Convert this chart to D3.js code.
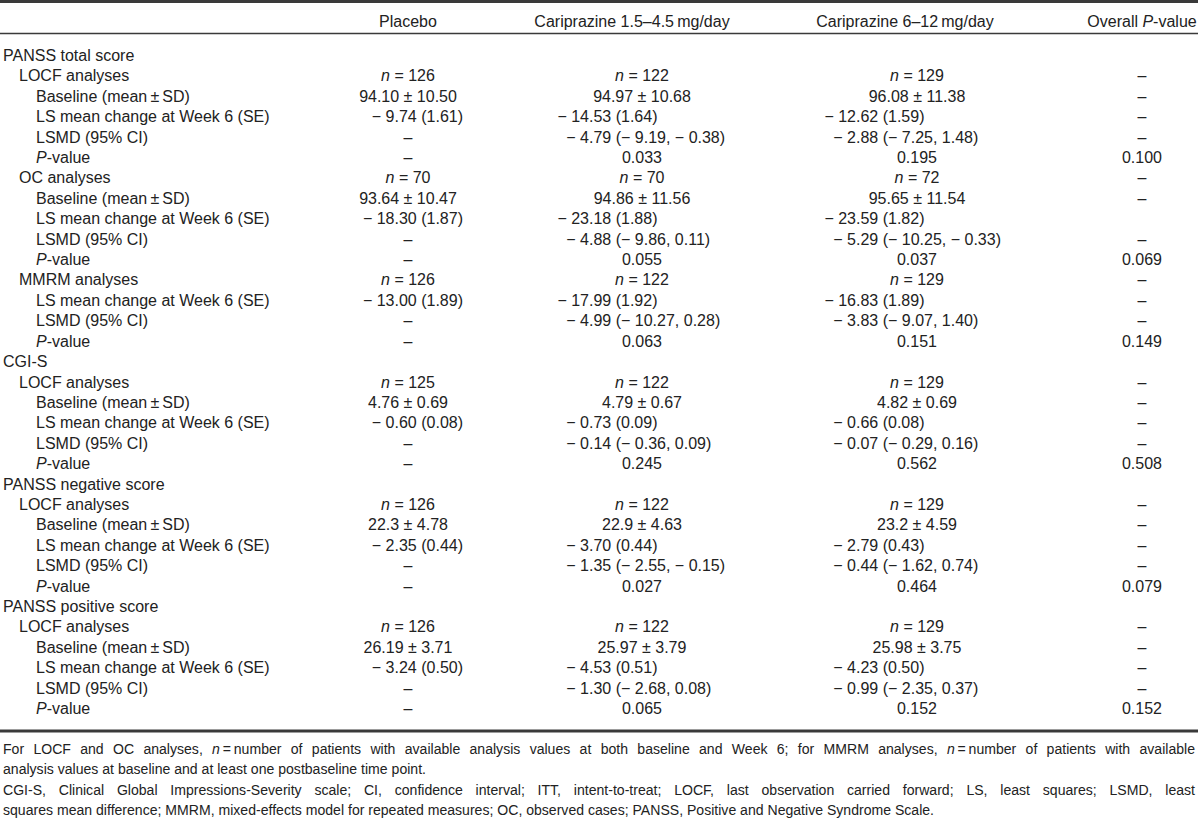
<!DOCTYPE html>
<html>
<head>
<meta charset="utf-8">
<script src="https://cdn.jsdelivr.net/npm/d3@7"></script>
<style>
  body { margin: 0; background: #fff; }
  svg { display: block; }
  text { font-family: "Liberation Sans", Arial, Helvetica, sans-serif; fill: #222; }
  .foot text { font-family: "Liberation Sans Narrow", "Liberation Sans", Arial, sans-serif; }
</style>
</head>
<body>
<svg id="table" width="1200" height="819"></svg>
<script>
/* global d3 */

// Column headers (asterisks mark italic text)
const columns = ['Placebo', 'Cariprazine 1.5\u20134.5\u2009mg/day', 'Cariprazine 6\u201312\u2009mg/day', 'Overall *P*-value']

// Row labels and their indent level
const rowLabels = [
  'PANSS total score', 'LOCF analyses', 'Baseline (mean\u2009\u00b1\u2009SD)', 'LS mean change at Week 6 (SE)', 'LSMD (95% CI)', '*P*-value',
  'OC analyses', 'Baseline (mean\u2009\u00b1\u2009SD)', 'LS mean change at Week 6 (SE)', 'LSMD (95% CI)', '*P*-value',
  'MMRM analyses', 'LS mean change at Week 6 (SE)', 'LSMD (95% CI)', '*P*-value',
  'CGI-S', 'LOCF analyses', 'Baseline (mean\u2009\u00b1\u2009SD)', 'LS mean change at Week 6 (SE)', 'LSMD (95% CI)', '*P*-value',
  'PANSS negative score', 'LOCF analyses', 'Baseline (mean\u2009\u00b1\u2009SD)', 'LS mean change at Week 6 (SE)', 'LSMD (95% CI)', '*P*-value',
  'PANSS positive score', 'LOCF analyses', 'Baseline (mean\u2009\u00b1\u2009SD)', 'LS mean change at Week 6 (SE)', 'LSMD (95% CI)', '*P*-value'
]
const rowLevels = [0, 1, 2, 2, 2, 2, 1, 2, 2, 2, 2, 1, 2, 2, 2, 0, 1, 2, 2, 2, 2, 0, 1, 2, 2, 2, 2, 0, 1, 2, 2, 2, 2]

const placebo = [
  '', 'n=126', '94.10\u00b110.50', '-9.74 (1.61)', '\u2013', '\u2013',
  'n=70', '93.64\u00b110.47', '-18.30 (1.87)', '\u2013', '\u2013',
  'n=126', '-13.00 (1.89)', '\u2013', '\u2013',
  '', 'n=125', '4.76\u00b10.69', '-0.60 (0.08)', '\u2013', '\u2013',
  '', 'n=126', '22.3\u00b14.78', '-2.35 (0.44)', '\u2013', '\u2013',
  '', 'n=126', '26.19\u00b13.71', '-3.24 (0.50)', '\u2013', '\u2013'
]
const cariLow = [
  '', 'n=122', '94.97\u00b110.68', '-14.53 (1.64)', '-4.79 (-9.19, -0.38)', '0.033',
  'n=70', '94.86\u00b111.56', '-23.18 (1.88)', '-4.88 (-9.86, 0.11)', '0.055',
  'n=122', '-17.99 (1.92)', '-4.99 (-10.27, 0.28)', '0.063',
  '', 'n=122', '4.79\u00b10.67', '-0.73 (0.09)', '-0.14 (-0.36, 0.09)', '0.245',
  '', 'n=122', '22.9\u00b14.63', '-3.70 (0.44)', '-1.35 (-2.55, -0.15)', '0.027',
  '', 'n=122', '25.97\u00b13.79', '-4.53 (0.51)', '-1.30 (-2.68, 0.08)', '0.065'
]
const cariHigh = [
  '', 'n=129', '96.08\u00b111.38', '-12.62 (1.59)', '-2.88 (-7.25, 1.48)', '0.195',
  'n=72', '95.65\u00b111.54', '-23.59 (1.82)', '-5.29 (-10.25, -0.33)', '0.037',
  'n=129', '-16.83 (1.89)', '-3.83 (-9.07, 1.40)', '0.151',
  '', 'n=129', '4.82\u00b10.69', '-0.66 (0.08)', '-0.07 (-0.29, 0.16)', '0.562',
  '', 'n=129', '23.2\u00b14.59', '-2.79 (0.43)', '-0.44 (-1.62, 0.74)', '0.464',
  '', 'n=129', '25.98\u00b13.75', '-4.23 (0.50)', '-0.99 (-2.35, 0.37)', '0.152'
]
const overallP = [
  '', '\u2013', '\u2013', '\u2013', '\u2013', '0.100',
  '\u2013', '\u2013', '', '\u2013', '0.069',
  '\u2013', '\u2013', '\u2013', '0.149',
  '', '\u2013', '\u2013', '\u2013', '\u2013', '0.508',
  '', '\u2013', '\u2013', '\u2013', '\u2013', '0.079',
  '', '\u2013', '\u2013', '\u2013', '\u2013', '0.152'
]

const footnotes = [
  'For LOCF and OC analyses, *n*\u2009=\u2009number of patients with available analysis values at both baseline and Week 6; for MMRM analyses, *n*\u2009=\u2009number of patients with available',
  'analysis values at baseline and at least one postbaseline time point.',
  'CGI-S, Clinical Global Impressions-Severity scale; CI, confidence interval; ITT, intent-to-treat; LOCF, last observation carried forward; LS, least squares; LSMD, least',
  'squares mean difference; MMRM, mixed-effects model for repeated measures; OC, observed cases; PANSS, Positive and Negative Syndrome Scale.'
]
const justified = [true, false, true, false]

const columnValues = [placebo, cariLow, cariHigh, overallP]

// layout
const fontSize = 16
const left = 0
const right = 1198
const indent = [3, 19, 36]
const decimalX = [null, 589, 856, null] // estimate columns line up on the decimal point
const placeboRight = 463
const lastFootEnd = 935 // where the last (unjustified) footnote line stops

const svg = d3.select('#table')

const x = d3.scaleOrdinal().domain(d3.range(4)).range([408, 642, 917, 1142])
const xHead = d3.scaleOrdinal().domain(d3.range(4)).range([408, 632, 905, 1142])
const y = d3.scaleLinear().domain([0, rowLabels.length - 1]).range([55, 708])
const yFoot = d3.scaleLinear().domain([0, footnotes.length - 1]).range([749, 810])

// writes "a *b* c" into a text node, starred parts in italic
function rich (sel, str) {
  str.split('*').forEach((part, i) => {
    if (!part) return
    sel.append('tspan')
      .style('font-style', i % 2 ? 'italic' : null)
      .text(part)
  })
}

function fmt (v) {
  if (v.startsWith('n=')) return '*n* = ' + v.slice(2)
  return v.replace(/-/g, '\u2212 ').replace('\u00b1', ' \u00b1 ')
}

// rules
svg.append('line').attr('x1', left).attr('x2', right).attr('y1', 1.5).attr('y2', 1.5)
  .attr('stroke', '#3a3a3a').attr('stroke-width', 3)
svg.append('line').attr('x1', left).attr('x2', right).attr('y1', 33.5).attr('y2', 33.5)
  .attr('stroke', '#3a3a3a').attr('stroke-width', 1.6)
svg.append('line').attr('x1', left).attr('x2', right).attr('y1', 731).attr('y2', 731)
  .attr('stroke', '#3a3a3a').attr('stroke-width', 3)

// header
svg.append('g').selectAll('text')
  .data(columns)
  .join('text')
  .attr('x', (d, i) => xHead(i))
  .attr('y', 27)
  .attr('text-anchor', 'middle')
  .style('font-size', fontSize + 'px')
  .each(function (d) { rich(d3.select(this), d) })

// row labels
svg.append('g').selectAll('text')
  .data(rowLabels)
  .join('text')
  .attr('x', (d, i) => indent[rowLevels[i]])
  .attr('y', (d, i) => y(i) + 6)
  .style('font-size', fontSize + 'px')
  .each(function (d) { rich(d3.select(this), d) })

// cells
const cells = []
columnValues.forEach((vals, c) => {
  vals.forEach((v, r) => { if (v) cells.push({ c, r, v }) })
})

const cellG = svg.append('g')
cells.forEach(d => {
  const txt = fmt(d.v)
  const yy = y(d.r) + 6
  const isEstimate = txt.includes('(')
  if (isEstimate && decimalX[d.c] !== null) {
    const cut = txt.indexOf('.')
    cellG.append('text').attr('x', decimalX[d.c]).attr('y', yy)
      .attr('text-anchor', 'end').style('font-size', fontSize + 'px')
      .text(txt.slice(0, cut))
    cellG.append('text').attr('x', decimalX[d.c]).attr('y', yy)
      .attr('text-anchor', 'start').style('font-size', fontSize + 'px')
      .text(txt.slice(cut))
  } else if (isEstimate) {
    cellG.append('text').attr('x', placeboRight).attr('y', yy)
      .attr('text-anchor', 'end').style('font-size', fontSize + 'px')
      .text(txt)
  } else {
    const t = cellG.append('text').attr('x', x(d.c)).attr('y', yy)
      .attr('text-anchor', 'middle').style('font-size', fontSize + 'px')
    rich(t, txt)
  }
})

// footnotes: condensed type, full lines justified by widening word gaps
const footG = svg.append('g').attr('class', 'foot')
const footLines = footG.selectAll('g')
  .data(footnotes)
  .join('g')
const footText = footLines.append('text')
  .attr('x', 0)
  .attr('y', 0)
  .style('font-size', '15px')
  .each(function (d) { rich(d3.select(this), d) })

const fullWidth = right - 3 - 3
const k = (lastFootEnd - 3) / footText.nodes()[3].getComputedTextLength()
footLines.attr('transform', (d, i) => `translate(3,${yFoot(i) + 5}) scale(${k},1)`)
footText.each(function (d, i) {
  if (!justified[i]) return
  const w = this.getComputedTextLength()
  const gaps = d.split(' ').length - 1
  d3.select(this).style('word-spacing', ((fullWidth / k - w) / gaps) + 'px')
})
</script>
</body>
</html>
